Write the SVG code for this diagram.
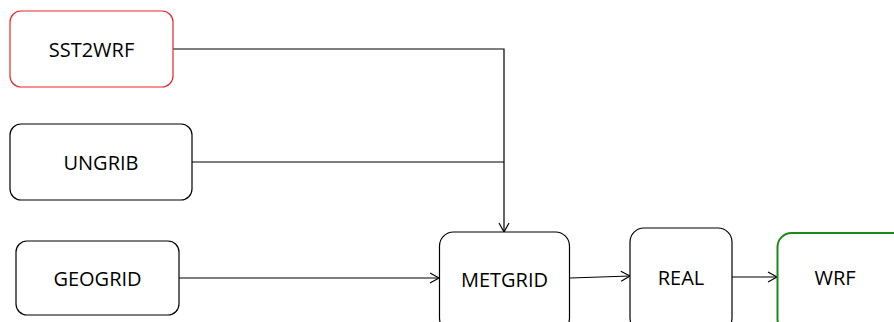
<svg xmlns="http://www.w3.org/2000/svg" width="894" height="322" viewBox="0 0 894 322">
<style>
.box{fill:#fff;stroke:#000;stroke-width:1.2}
.lbl{font-family:"Open Sans","Liberation Sans",sans-serif;font-size:20px;fill:#000;text-anchor:middle;dominant-baseline:central}
.con{fill:none;stroke:#000;stroke-width:1.2}
</style>
<defs>
<marker id="ah" markerWidth="12" markerHeight="12" refX="10" refY="6" orient="auto" markerUnits="userSpaceOnUse">
<path d="M1,1 L10,6 L1,11" fill="none" stroke="#000" stroke-width="1.2"/>
</marker>
</defs>
<rect width="894" height="322" fill="#fff"/>
<g id="connectors">
<path class="con" d="M173,49 H504 V232" marker-end="url(#ah)"/>
<path class="con" d="M192,162 H504"/>
<path class="con" d="M179,278 H439" marker-end="url(#ah)"/>
<path class="con" d="M570,278 L630,276" marker-end="url(#ah)"/>
<path class="con" d="M732,277 H777" marker-end="url(#ah)"/>
</g>
<g id="sst2wrf"><rect class="box" x="10" y="11" width="163" height="76" rx="11" style="stroke:#e8262b"/><text class="lbl" x="91.5" y="49">SST2WRF</text></g>
<g id="ungrib"><rect class="box" x="10" y="124" width="182" height="76" rx="11"/><text class="lbl" x="101" y="162">UNGRIB</text></g>
<g id="geogrid"><rect class="box" x="16" y="241" width="163" height="74" rx="11"/><text class="lbl" x="97.5" y="278">GEOGRID</text></g>
<g id="metgrid"><rect class="box" x="439.5" y="232" width="130" height="100" rx="14"/><text class="lbl" x="504.5" y="279">METGRID</text></g>
<g id="real"><rect class="box" x="630" y="228" width="102" height="104" rx="14"/><text class="lbl" x="681" y="277">REAL</text></g>
<g id="wrf"><rect class="box" x="777.5" y="233" width="130" height="100" rx="14" style="stroke:#1a8a1a;stroke-width:2"/><text class="lbl" x="835" y="277">WRF</text></g>
</svg>
